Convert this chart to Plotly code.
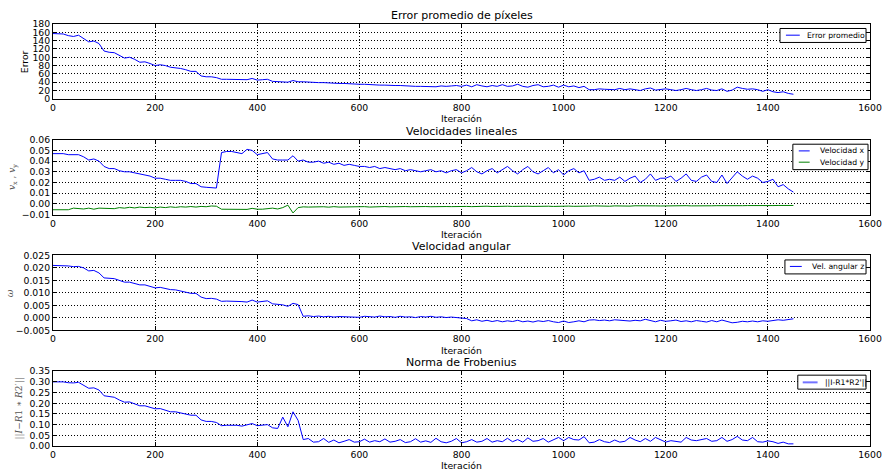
import plotly.graph_objects as go

# ---------------- data ----------------
iteraciones = list(range(0, 1451, 10))

error_promedio = [
    157, 157, 156, 152, 150, 153, 146, 137, 139, 133,
    115, 112, 111, 105, 98, 100, 95, 88, 89, 85,
    80, 82, 80, 76, 75, 73, 70, 66, 66, 55,
    53, 53, 51, 47, 47, 47, 47, 46, 46, 49,
    45, 46, 47, 42, 41, 41, 40, 44, 41, 41,
    40, 40, 39, 39, 38, 38, 37, 37, 36, 36,
    35, 35, 34, 34, 33, 33, 32, 32, 32, 31,
    31, 30, 30, 30, 30, 29, 31, 30, 31, 32,
    30, 33, 29, 34, 31, 29, 32, 30, 34, 30,
    31, 35, 30, 28, 32, 34, 29, 30, 33, 28,
    33, 29, 31, 27, 30, 22, 22, 24, 23, 22,
    22, 25, 22, 24, 22, 20, 24, 26, 21, 23,
    24, 22, 20, 22, 25, 22, 20, 22, 25, 21,
    20, 24, 18, 21, 28, 25, 23, 24, 22, 18,
    22, 17, 15, 17, 13, 11,
]

velocidad_x = [
    0.047, 0.047, 0.047, 0.046, 0.046, 0.046, 0.044, 0.041, 0.042, 0.040,
    0.035, 0.033, 0.033, 0.031, 0.030, 0.030, 0.029, 0.028, 0.027, 0.026,
    0.024, 0.024, 0.023, 0.022, 0.022, 0.022, 0.021, 0.019, 0.019, 0.016,
    0.0155, 0.015, 0.0148, 0.048, 0.049, 0.049, 0.048, 0.047, 0.051, 0.050,
    0.046, 0.047, 0.048, 0.042, 0.041, 0.041, 0.041, 0.045, 0.040, 0.041,
    0.039, 0.039, 0.040, 0.038, 0.039, 0.037, 0.038, 0.036, 0.037, 0.036,
    0.035, 0.035, 0.034, 0.035, 0.033, 0.034, 0.033, 0.032, 0.033, 0.031,
    0.032, 0.031, 0.030, 0.031, 0.032, 0.030, 0.031, 0.029, 0.031, 0.032,
    0.029, 0.031, 0.034, 0.030, 0.028, 0.031, 0.033, 0.029, 0.032, 0.035,
    0.031, 0.028, 0.032, 0.035, 0.030, 0.028, 0.031, 0.034, 0.029, 0.032,
    0.027, 0.031, 0.033, 0.029, 0.031, 0.022, 0.023, 0.025, 0.022, 0.023,
    0.022, 0.025, 0.021, 0.024, 0.026, 0.020, 0.023, 0.028, 0.022, 0.024,
    0.024, 0.026, 0.021, 0.024, 0.028, 0.022, 0.021, 0.025, 0.027, 0.021,
    0.020, 0.027, 0.019, 0.024, 0.030, 0.026, 0.023, 0.026, 0.024, 0.020,
    0.021, 0.023, 0.016, 0.018, 0.014, 0.011,
]

velocidad_y = [
    -0.0055, -0.0055, -0.0055, -0.0055, -0.0040, -0.0045, -0.0048, -0.0040, -0.0050, -0.0040,
    -0.0042, -0.0038, -0.0045, -0.0035, -0.0040, -0.0032, -0.0038, -0.0030, -0.0035, -0.0032,
    -0.0038, -0.0030, -0.0035, -0.0028, -0.0033, -0.0027, -0.0030, -0.0025, -0.0030, -0.0024,
    -0.0027, -0.0020, -0.0022, -0.0050, -0.0050, -0.0050, -0.0050, -0.0045, -0.0052, -0.0042,
    -0.0050, -0.0050, -0.0045, -0.0040, -0.0048, -0.0035, -0.0012, -0.0085, -0.0035, -0.0028,
    -0.0030, -0.0028, -0.0033, -0.0027, -0.0031, -0.0026, -0.0030, -0.0028, -0.0032, -0.0027,
    -0.0029, -0.0026, -0.0030, -0.0027, -0.0029, -0.0025, -0.0028, -0.0026, -0.0029, -0.0025,
    -0.0027, -0.0024, -0.0028, -0.0025, -0.0027, -0.0024, -0.0027, -0.0025, -0.0026, -0.0023,
    -0.0026, -0.0024, -0.0026, -0.0023, -0.0025, -0.0022, -0.0025, -0.0023, -0.0025, -0.0022,
    -0.0024, -0.0022, -0.0025, -0.0022, -0.0024, -0.0021, -0.0024, -0.0022, -0.0024, -0.0021,
    -0.0023, -0.0021, -0.0023, -0.0020, -0.0022, -0.0021, -0.0019, -0.0022, -0.0020, -0.0022,
    -0.0019, -0.0021, -0.0019, -0.0021, -0.0018, -0.0020, -0.0018, -0.0021, -0.0019, -0.0020,
    -0.0018, -0.0020, -0.0018, -0.0019, -0.0017, -0.0019, -0.0017, -0.0019, -0.0017, -0.0018,
    -0.0017, -0.0018, -0.0016, -0.0018, -0.0016, -0.0017, -0.0016, -0.0017, -0.0015, -0.0017,
    -0.0015, -0.0016, -0.0015, -0.0016, -0.0015, -0.0015,
]

velocidad_angular = [
    0.0210, 0.0210, 0.0210, 0.0208, 0.0205, 0.0206, 0.0200, 0.0188, 0.0190, 0.0180,
    0.0160, 0.0158, 0.0157, 0.0150, 0.0143, 0.0143, 0.0138, 0.0132, 0.0132, 0.0127,
    0.0120, 0.0122, 0.0117, 0.0113, 0.0112, 0.0108, 0.0103, 0.0098, 0.0098, 0.0083,
    0.0077, 0.0078, 0.0075, 0.0066, 0.0067, 0.0067, 0.0067, 0.0065, 0.0063, 0.0071,
    0.0063, 0.0064, 0.0068, 0.0056, 0.0054, 0.0052, 0.0046, 0.0058, 0.0053, 0.0006,
    0.0008, 0.0005, 0.0007, 0.0004, 0.0006, 0.0003, 0.0005, 0.0004, 0.0006, 0.0003,
    0.0002, 0.0006, 0.0005, 0.0003, 0.0007, 0.0004, 0.0005, 0.0002, 0.0006, 0.0003,
    0.0004, 0.0001, 0.0005, 0.0003, 0.0006, 0.0002, 0.0004, 0.0001, 0.0003, 0.0002,
    0.0000, -0.0003, -0.0012, -0.0008, -0.0014, -0.0010, -0.0015, -0.0011, -0.0016, -0.0012,
    -0.0015, -0.0010, -0.0016, -0.0013, -0.0017, -0.0012, -0.0015, -0.0011, -0.0016, -0.0019,
    -0.0013, -0.0019, -0.0016, -0.0012, -0.0016, -0.0009, -0.0008, -0.0011, -0.0009, -0.0012,
    -0.0008, -0.0010, -0.0009, -0.0013, -0.0010, -0.0012, -0.0006, -0.0012, -0.0016, -0.0010,
    -0.0014, -0.0012, -0.0009, -0.0015, -0.0012, -0.0016, -0.0011, -0.0014, -0.0017, -0.0011,
    -0.0016, -0.0009, -0.0014, -0.0020, -0.0018, -0.0014, -0.0016, -0.0013, -0.0016, -0.0012,
    -0.0014, -0.0012, -0.0008, -0.0010, -0.0006, -0.0004,
]

norma_frobenius = [
    0.300, 0.300, 0.300, 0.296, 0.295, 0.298, 0.285, 0.270, 0.272, 0.262,
    0.235, 0.230, 0.228, 0.215, 0.205, 0.206, 0.197, 0.188, 0.188, 0.180,
    0.174, 0.175, 0.166, 0.160, 0.160, 0.155, 0.148, 0.144, 0.144, 0.122,
    0.115, 0.115, 0.110, 0.095, 0.097, 0.097, 0.097, 0.093, 0.098, 0.105,
    0.095, 0.097, 0.100, 0.085, 0.082, 0.135, 0.090, 0.160, 0.120, 0.030,
    0.035, 0.018, 0.020, 0.035, 0.017, 0.028, 0.015, 0.022, 0.030, 0.018,
    0.020, 0.032, 0.018, 0.025, 0.020, 0.033, 0.018, 0.022, 0.030, 0.016,
    0.020, 0.034, 0.018, 0.024, 0.017, 0.036, 0.020, 0.015, 0.022, 0.035,
    0.015, 0.020, 0.030, 0.018, 0.022, 0.035, 0.018, 0.025, 0.020, 0.036,
    0.020, 0.030, 0.018, 0.038, 0.022, 0.025, 0.035, 0.018, 0.030, 0.040,
    0.025, 0.040, 0.030, 0.028, 0.044, 0.015, 0.018, 0.030, 0.020, 0.016,
    0.028, 0.018, 0.022, 0.040, 0.028, 0.020, 0.035, 0.022, 0.040, 0.030,
    0.018, 0.025, 0.022, 0.018, 0.040, 0.028, 0.025, 0.030, 0.035, 0.022,
    0.025, 0.040, 0.022, 0.030, 0.045, 0.028, 0.025, 0.040, 0.020, 0.018,
    0.024, 0.020, 0.012, 0.018, 0.010, 0.010,
]

x_ticks = [0, 200, 400, 600, 800, 1000, 1200, 1400, 1600]
x_tick_labels = ["0", "200", "400", "600", "800", "1000", "1200", "1400", "1600"]
y1_ticks = [0, 20, 40, 60, 80, 100, 120, 140, 160, 180]
y1_tick_labels = ["0", "20", "40", "60", "80", "100", "120", "140", "160", "180"]
y2_ticks = [-0.01, 0.0, 0.01, 0.02, 0.03, 0.04, 0.05, 0.06]
y2_tick_labels = ["\u22120.01", "0.00", "0.01", "0.02", "0.03", "0.04", "0.05", "0.06"]
y3_ticks = [-0.005, 0.0, 0.005, 0.01, 0.015, 0.02, 0.025]
y3_tick_labels = ["\u22120.005", "0.000", "0.005", "0.010", "0.015", "0.020", "0.025"]
y4_ticks = [0.0, 0.05, 0.1, 0.15, 0.2, 0.25, 0.3, 0.35]
y4_tick_labels = ["0.00", "0.05", "0.10", "0.15", "0.20", "0.25", "0.30", "0.35"]

titles = ["Error promedio de píxeles", "Velocidades lineales", "Velocidad angular", "Norma de Frobenius"]
x_title = "Iteración"

# ---------------- geometry ----------------
W, H = 894, 472
X0, Y0 = 53, 24          # plot-area top-left in window pixels
X1, Y1 = 879, 447        # plot-area bottom-right in window pixels
ML, MT = X0, Y0
MR, MB = W - X1, H - Y1
PW, PH = X1 - X0, Y1 - Y0


def px(x):
    return (x - X0) / PW


def py(y):
    return 1 - (y - Y0) / PH


plot_tops = [24, 140, 256, 372]
plot_bots = [99, 215, 331, 447]
domains = [[py(b), py(t)] for t, b in zip(plot_tops, plot_bots)]

BLUE = "#0000ff"
GREEN = "#008000"
FONT = "DejaVu Sans"

fig = go.Figure()
fig.add_trace(go.Scatter(x=iteraciones, y=error_promedio, mode="lines", name="Error promedio",
                         line=dict(color=BLUE, width=1), xaxis="x", yaxis="y", showlegend=False))
fig.add_trace(go.Scatter(x=iteraciones, y=velocidad_x, mode="lines", name="Velocidad x",
                         line=dict(color=BLUE, width=1), xaxis="x2", yaxis="y2", showlegend=False))
fig.add_trace(go.Scatter(x=iteraciones, y=velocidad_y, mode="lines", name="Velocidad y",
                         line=dict(color=GREEN, width=1), xaxis="x2", yaxis="y2", showlegend=False))
fig.add_trace(go.Scatter(x=iteraciones, y=velocidad_angular, mode="lines", name="Vel. angular z",
                         line=dict(color=BLUE, width=1), xaxis="x3", yaxis="y3", showlegend=False))
fig.add_trace(go.Scatter(x=iteraciones, y=norma_frobenius, mode="lines", name="||I-R1*R2'||",
                         line=dict(color=BLUE, width=1), xaxis="x4", yaxis="y4", showlegend=False))

common = dict(
    ticks="inside", ticklen=4, tickwidth=1, tickcolor="black",
    showline=True, linecolor="black", linewidth=1, mirror="ticks",
    showgrid=True, gridcolor="black", gridwidth=1, griddash="1px,2px",
    zeroline=False, tickmode="array",
    tickfont=dict(family=FONT, size=9.3, color="black"),
)

y_specs = [
    ([0, 180], y1_ticks, y1_tick_labels),
    ([-0.01, 0.06], y2_ticks, y2_tick_labels),
    ([-0.005, 0.025], y3_ticks, y3_tick_labels),
    ([0, 0.35], y4_ticks, y4_tick_labels),
]

layout = dict(
    width=W, height=H,
    margin=dict(l=ML, r=MR, t=MT, b=MB, pad=0),
    paper_bgcolor="white", plot_bgcolor="white",
    showlegend=False,
    font=dict(family=FONT, size=9.3, color="black"),
)
for i in range(4):
    sfx = "" if i == 0 else str(i + 1)
    layout["xaxis" + sfx] = dict(common, domain=[0, 1], range=[0, 1600], anchor="y" + sfx,
                                 tickvals=x_ticks, ticktext=x_tick_labels)
    rng, tv, tt = y_specs[i]
    layout["yaxis" + sfx] = dict(common, domain=domains[i], range=rng, anchor="x" + sfx,
                                 tickvals=tv, ticktext=tt)
fig.update_layout(**layout)

annotations = []
shapes = []
for i in range(4):
    annotations.append(dict(text=titles[i], x=0.5, y=py(plot_tops[i]), xref="paper", yref="paper",
                            xanchor="center", yanchor="bottom", showarrow=False, yshift=0,
                            font=dict(family=FONT, size=11, color="black")))
    annotations.append(dict(text=x_title, x=0.5, y=py(plot_bots[i] + 20), xref="paper", yref="paper",
                            xanchor="center", yanchor="middle", showarrow=False,
                            font=dict(family=FONT, size=9.3, color="black")))

# y-axis labels
ylabels = [
    ("Error", 24.5, FONT, 9.3, "black"),
    ("<i>v</i><sub>x</sub> , <i>v</i><sub>y</sub>", 12.5, "DejaVu Serif", 9, "#555555"),
    ("<i>ω</i>", 9, "DejaVu Serif", 9.5, "#555555"),
    ("||<i>I</i>−<i>R</i>1 ∗ <i>R</i>2′||", 19.5, "DejaVu Serif", 9, "#555555"),
]
for i, (txt, xpx, fam, sz, col) in enumerate(ylabels):
    annotations.append(dict(text=txt, x=px(xpx), y=py((plot_tops[i] + plot_bots[i]) / 2),
                            xref="paper", yref="paper", xanchor="center", yanchor="middle",
                            textangle=-90, showarrow=False,
                            font=dict(family=fam, size=sz, color=col)))

# legends (drawn as boxes with line samples and labels)
legends = [
    ((788, 875, 28.5, 42.5), [("Error promedio", BLUE, 35.2, 1)], 794, 808, 813),
    ((801, 877, 144.5, 170), [("Velocidad x", BLUE, 151.2, 1), ("Velocidad y", GREEN, 162.5, 1)], 807, 818, 826.5),
    ((793, 875, 260.5, 274.5), [("Vel. angular z", BLUE, 267, 1)], 798, 810, 818),
    ((806, 875, 376, 390), [("||I-R1*R2'||", "rgba(0,0,255,0.55)", 383.2, 2)], 811, 826, 831),
]
for (x0, x1, y0, y1), entries, lx0, lx1, tx in legends:
    shapes.append(dict(type="rect", xref="paper", yref="paper", x0=px(x0), x1=px(x1), y0=py(y1), y1=py(y0),
                       line=dict(color="black", width=1), fillcolor="white", layer="above"))
    for label, col, yy, lw in entries:
        shapes.append(dict(type="line", xref="paper", yref="paper", x0=px(lx0), x1=px(lx1), y0=py(yy), y1=py(yy),
                           line=dict(color=col, width=lw), layer="above"))
        annotations.append(dict(text=label, x=px(tx), y=py(yy), xref="paper", yref="paper",
                                xanchor="left", yanchor="middle", showarrow=False,
                                font=dict(family=FONT, size=7.7, color="black")))

fig.update_layout(annotations=annotations, shapes=shapes)
fig.write_html(
    "out.html",
    config={"displayModeBar": False},
    post_script="document.body.style.margin='0px';document.body.style.overflow='hidden';",
)
